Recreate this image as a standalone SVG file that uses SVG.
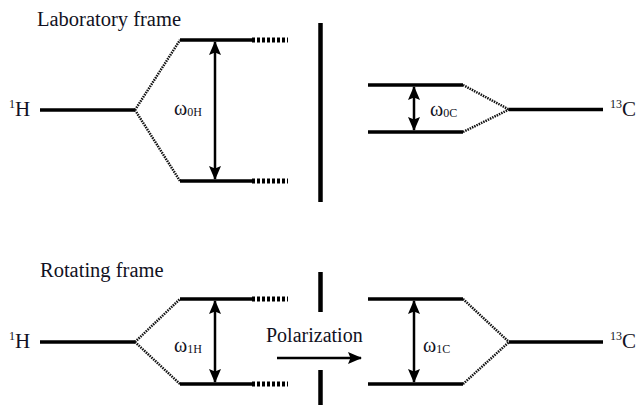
<svg xmlns="http://www.w3.org/2000/svg" width="636" height="405" viewBox="0 0 636 405">
<style>
.t{font-family:'Liberation Serif','DejaVu Serif','Times New Roman',serif;fill:#111122}
.lvl{stroke:#000;stroke-width:3.5;fill:none}
.dot{stroke:#111;stroke-width:2.5;stroke-dasharray:1.5 1;fill:none}
.ext{stroke:#000;stroke-width:5;stroke-dasharray:3 2;fill:none}
.div{stroke:#000;stroke-width:4.5;fill:none}
.arr{stroke:#000;stroke-width:2.5;fill:none}
.lbl{font-size:20.5px}
.sub{font-size:12px}
</style>
<defs>
<marker id="ah" viewBox="0 0 14 12" refX="13" refY="6" markerWidth="14" markerHeight="12" markerUnits="userSpaceOnUse" orient="auto-start-reverse">
<path d="M0,0 L14,6 L0,12 L2.5,6 Z" fill="#000"/>
</marker>
</defs>
<g id="titles">
<text class="t lbl" x="37" y="26">Laboratory frame</text>
<text class="t lbl" x="40" y="277">Rotating frame</text>
</g>
<g id="divider">
<line class="div" x1="320.5" y1="23" x2="320.5" y2="202"/>
<line class="div" x1="320.5" y1="272" x2="320.5" y2="312"/>
<line class="div" x1="320.5" y1="370" x2="320.5" y2="405"/>
</g>
<g id="lab-H">
<text class="t" x="9" y="116" font-size="21"><tspan font-size="12" dy="-8">1</tspan><tspan dy="8">H</tspan></text>
<line class="lvl" x1="40" y1="110" x2="135" y2="110"/>
<path class="dot" d="M135,110 L180,40 M135,110 L180,181"/>
<line class="lvl" x1="180" y1="40" x2="252" y2="40"/>
<line class="lvl" x1="180" y1="181" x2="252" y2="181"/>
<line class="ext" x1="252" y1="40" x2="288" y2="40"/>
<line class="ext" x1="252" y1="181" x2="288" y2="181"/>
</g>
<g id="lab-C">
<line class="lvl" x1="368" y1="85" x2="463" y2="85"/>
<line class="lvl" x1="368" y1="132" x2="463" y2="132"/>
<path class="dot" d="M463,85 L509,109.5 M463,132 L509,109.5"/>
<line class="lvl" x1="509" y1="109.5" x2="603" y2="109.5"/>
<text class="t" x="610" y="116" font-size="21"><tspan font-size="12" dy="-8">13</tspan><tspan dy="8">C</tspan></text>
</g>
<g id="rot-H">
<text class="t" x="9" y="348" font-size="21"><tspan font-size="12" dy="-8">1</tspan><tspan dy="8">H</tspan></text>
<line class="lvl" x1="40" y1="342" x2="135" y2="342"/>
<path class="dot" d="M135,342 L180,299 M135,342 L180,384"/>
<line class="lvl" x1="180" y1="299" x2="252" y2="299"/>
<line class="lvl" x1="180" y1="384" x2="252" y2="384"/>
<line class="ext" x1="252" y1="299" x2="288" y2="299"/>
<line class="ext" x1="252" y1="384" x2="288" y2="384"/>
</g>
<g id="rot-C">
<line class="lvl" x1="368" y1="299" x2="463" y2="299"/>
<line class="lvl" x1="368" y1="384" x2="463" y2="384"/>
<path class="dot" d="M463,299 L509,342 M463,384 L509,342"/>
<line class="lvl" x1="509" y1="342" x2="603" y2="342"/>
<text class="t" x="610" y="348" font-size="21"><tspan font-size="12" dy="-8">13</tspan><tspan dy="8">C</tspan></text>
</g>
<g id="polarization">
<text class="t" x="266" y="342" font-size="20">Polarization</text>
</g>
<g id="connectors">
<line class="arr" x1="215" y1="42" x2="215" y2="179" marker-start="url(#ah)" marker-end="url(#ah)"/>
<line class="arr" x1="414" y1="87" x2="414" y2="130" marker-start="url(#ah)" marker-end="url(#ah)"/>
<line class="arr" x1="215" y1="301" x2="215" y2="382" marker-start="url(#ah)" marker-end="url(#ah)"/>
<line class="arr" x1="414" y1="301" x2="414" y2="382" marker-start="url(#ah)" marker-end="url(#ah)"/>
<line class="arr" x1="277" y1="358" x2="361" y2="358" marker-end="url(#ah)"/>
</g>
<g id="freq-labels">
<text class="t" x="174" y="115" font-size="20">ω<tspan class="sub" dy="1">0H</tspan></text>
<text class="t" x="430" y="116" font-size="20">ω<tspan class="sub" dy="1">0C</tspan></text>
<text class="t" x="174" y="352" font-size="20">ω<tspan class="sub" dy="1">1H</tspan></text>
<text class="t" x="423" y="352" font-size="20">ω<tspan class="sub" dy="1">1C</tspan></text>
</g>
</svg>
